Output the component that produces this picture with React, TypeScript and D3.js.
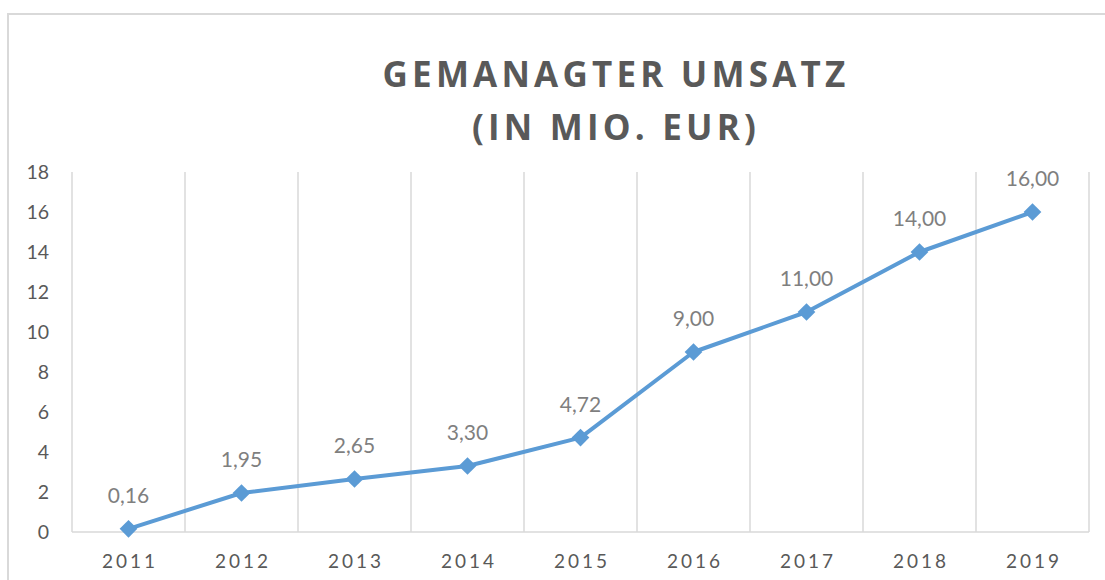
import React, { useEffect } from "react";
import * as d3 from "d3";

const years = ["2011", "2012", "2013", "2014", "2015", "2016", "2017", "2018", "2019"];
const revenue = [0.16, 1.95, 2.65, 3.3, 4.72, 9.0, 11.0, 14.0, 16.0];
const yTicks = [0, 2, 4, 6, 8, 10, 12, 14, 16, 18];
const titleLines = ["GEMANAGTER UMSATZ", "(IN MIO. EUR)"];

const W = 1105;
const H = 580;
const plot = { left: 72, right: 1089, top: 172, bottom: 532 };
const grid = "#d9d9d9";
const lineColor = "#5b9bd5";
const textGray = "#595959";
const labelGray = "#7f7f7f";
const font = "Lato, 'Open Sans', sans-serif";

export default function App() {
  useEffect(() => {
    document.body.style.margin = "0";
    document.body.style.overflow = "hidden";
  }, []);

  const x = d3.scaleBand<string>().domain(years).range([plot.left, plot.right]).padding(0);
  const y = d3.scaleLinear().domain([0, 18]).range([plot.bottom, plot.top]);
  const cx = (yr: string) => (x(yr) as number) + x.bandwidth() / 2;

  const line = d3
    .line<number>()
    .x((_, i) => cx(years[i]))
    .y((d) => y(d));

  const fmt = (v: number) => d3.format(".2f")(v).replace(".", ",");
  const boundaries = years.map((yr) => x(yr) as number).concat([plot.right]);
  const diamond = d3.symbol().type(d3.symbolDiamond2).size(200)();

  return (
    <svg width={W} height={H} style={{ display: "block", background: "#fff" }}>
      <rect x={8} y={14} width={1200} height={700} fill="#fff" stroke={grid} strokeWidth={2} />
      {titleLines.map((t, i) => (
        <text
          key={t}
          x={616}
          y={87 + i * 53}
          textAnchor="middle"
          fontFamily="'Open Sans', sans-serif"
          fontWeight={700}
          fontSize={35}
          letterSpacing={4.2}
          fill={textGray}
        >
          {t}
        </text>
      ))}
      {boundaries.map((bx, i) => (
        <line key={i} x1={bx} x2={bx} y1={plot.top} y2={plot.bottom} stroke={grid} strokeWidth={1.5} />
      ))}
      <line x1={plot.left} x2={plot.right} y1={plot.bottom} y2={plot.bottom} stroke={grid} strokeWidth={1.5} />
      {yTicks.map((t) => (
        <text
          key={t}
          x={49}
          y={y(t)}
          dy="0.35em"
          textAnchor="end"
          fontFamily={font}
          fontSize={19.5}
          fill={textGray}
        >
          {t}
        </text>
      ))}
      {years.map((yr) => (
        <text
          key={yr}
          x={cx(yr) + 1.5}
          y={568}
          textAnchor="middle"
          fontFamily={font}
          fontSize={19}
          letterSpacing={3}
          fill={textGray}
        >
          {yr}
        </text>
      ))}
      <path d={line(revenue) || ""} fill="none" stroke={lineColor} strokeWidth={4} strokeLinejoin="round" />
      {revenue.map((v, i) => (
        <path key={i} d={diamond || ""} transform={`translate(${cx(years[i])},${y(v)})`} fill={lineColor} />
      ))}
      {revenue.map((v, i) => (
        <text
          key={i}
          x={cx(years[i])}
          y={y(v) - 26}
          textAnchor="middle"
          fontFamily={font}
          fontSize={21}
          fill={labelGray}
        >
          {fmt(v)}
        </text>
      ))}
    </svg>
  );
}
